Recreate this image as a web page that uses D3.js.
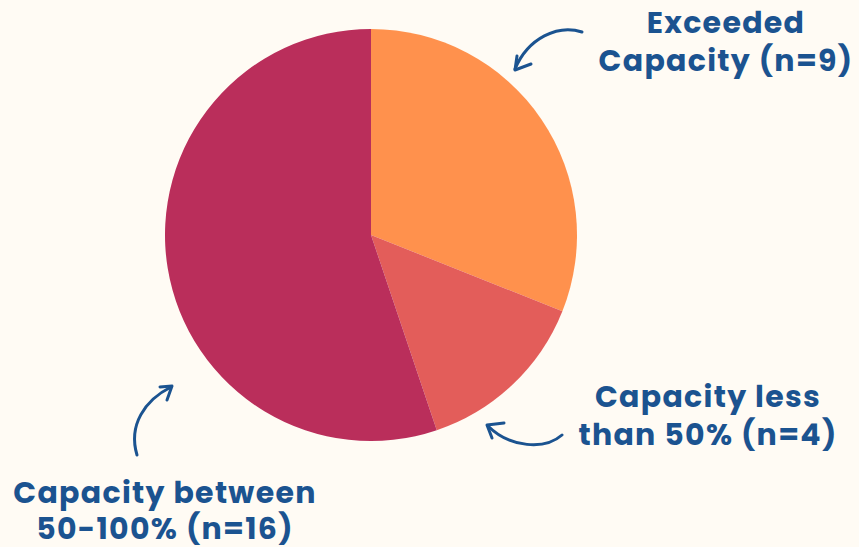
<!DOCTYPE html>
<html><head><meta charset="utf-8">
<script src="https://cdn.jsdelivr.net/npm/d3@7"></script>
<style>html,body{margin:0;padding:0;background:#FFFBF4;}svg{display:block;}</style>
</head><body>
<svg id="chart" width="859" height="547"></svg>
<script>
const categories = ["Exceeded Capacity", "Capacity less than 50%", "Capacity between 50-100%"];
const values = [9, 4, 16];
const colors = ["#FF914D", "#E35D5A", "#BA2E5B"];
const labelLines = [
  ["Exceeded", "Capacity (n=9)"],
  ["Capacity less", "than 50% (n=4)"],
  ["Capacity between", "50-100% (n=16)"]
];

const svg = d3.select("#chart");
const W = 859, H = 547;
svg.append("rect").attr("width", W).attr("height", H).attr("fill", "#FFFBF4");

const cx = 371, cy = 235, r = 206;
const pie = d3.pie().sort(null).value(d => d)(values);
const arc = d3.arc().innerRadius(0).outerRadius(r);
const g = svg.append("g").attr("transform", `translate(${cx},${cy})`);
g.selectAll("path").data(pie).join("path")
  .attr("d", arc).attr("fill", (d, i) => colors[i]);

const blue = "#1B5390";
const labelPos = [
  {x: 726, y: [33, 71]},
  {x: 708, y: [407, 445]},
  {x: 165, y: [503, 539]}
];
const fontFam = "'Poppins','Open Sans','DejaVu Sans',sans-serif";
labelLines.forEach((lines, i) => {
  const t = svg.append("text").attr("text-anchor", "middle")
    .attr("font-family", fontFam).attr("font-weight", 700)
    .attr("font-size", 30).attr("letter-spacing", 1.3).attr("fill", blue);
  lines.forEach((ln, j) => {
    t.append("tspan").attr("x", labelPos[i].x).attr("y", labelPos[i].y[j]).text(ln);
  });
});

// arrows
const arrows = [
  {path: "M582,32 C558,24 528,38 515,69", head: "M517,56 L515,70 L531,64"},
  {path: "M562,435 C545,450 510,448 488,426", head: "M504,423 L487,425 L492,438"},
  {path: "M137,455 C128,425 145,400 171,387", head: "M160,387 L172,386 L167,400"}
];
arrows.forEach(a => {
  svg.append("path").attr("d", a.path).attr("fill", "none").attr("stroke", blue)
    .attr("stroke-width", 3).attr("stroke-linecap", "round");
  svg.append("path").attr("d", a.head).attr("fill", "none").attr("stroke", blue)
    .attr("stroke-width", 3).attr("stroke-linecap", "round").attr("stroke-linejoin", "round");
});
</script>
</body></html>
